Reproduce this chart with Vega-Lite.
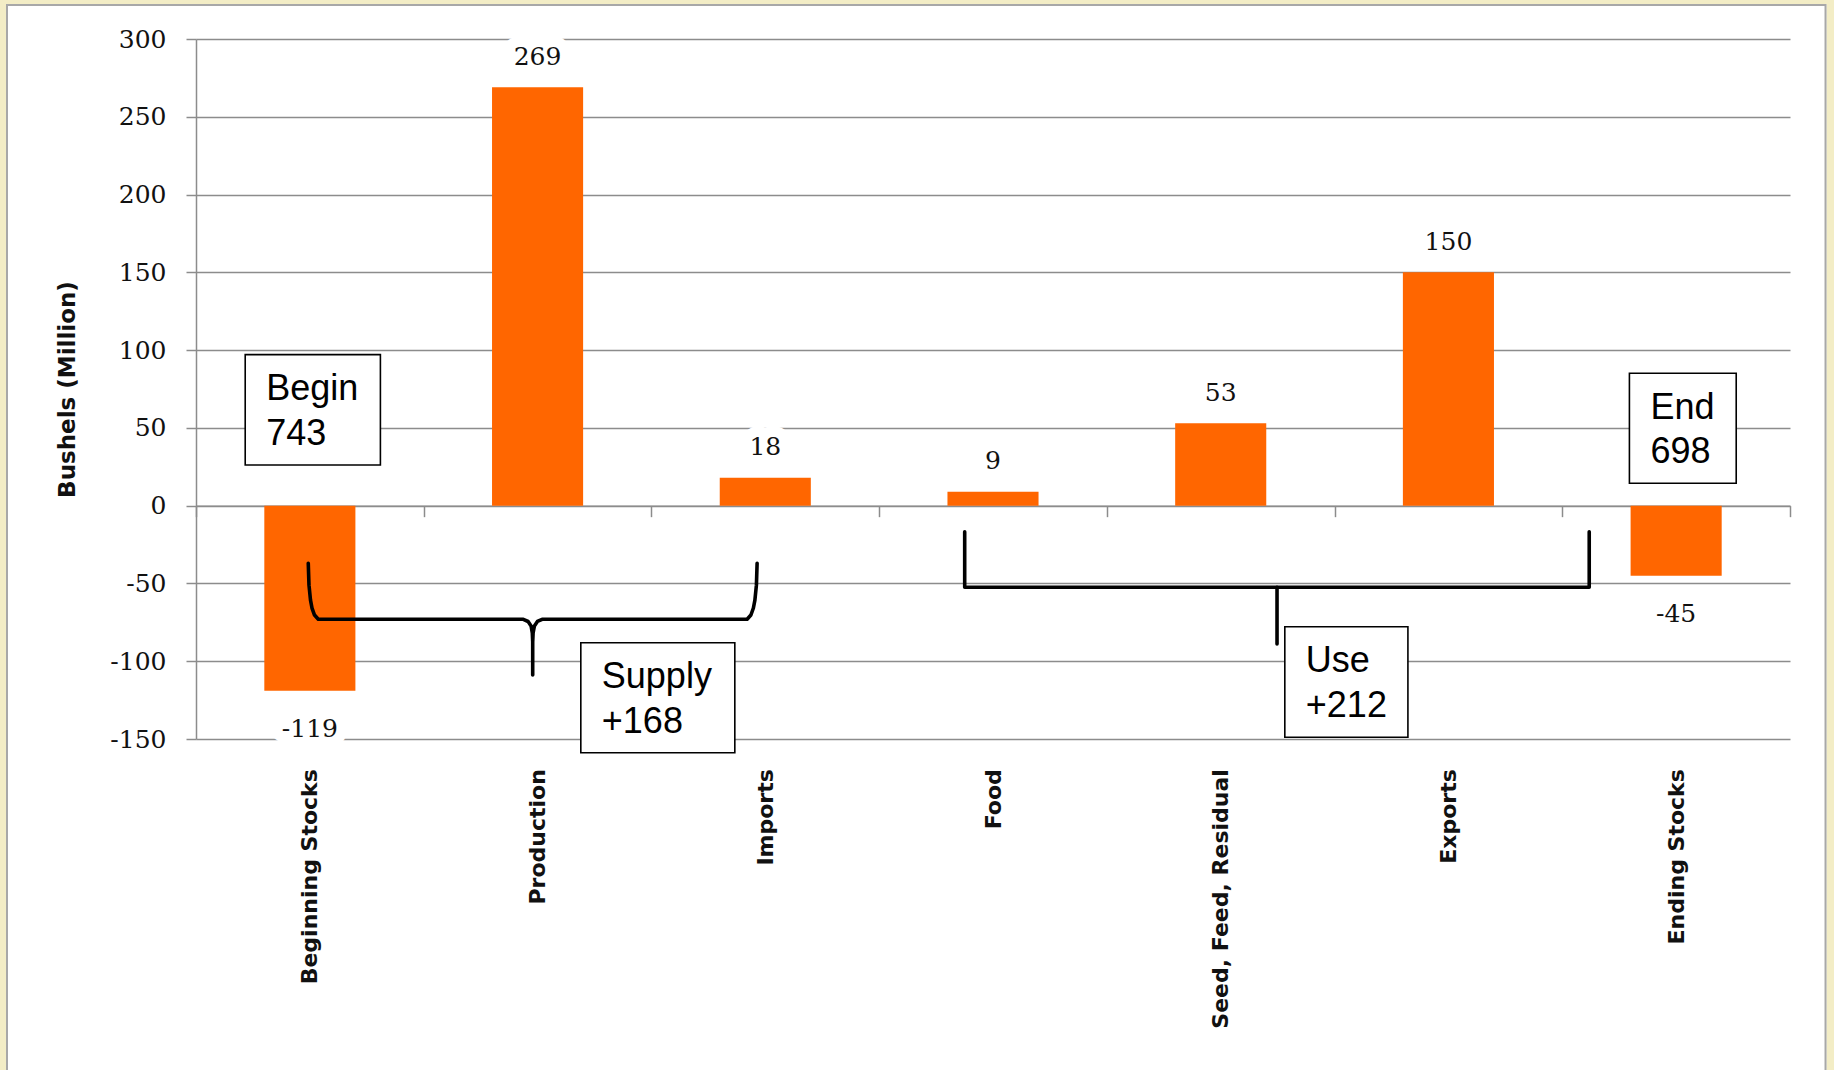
{
  "$schema": "https://vega.github.io/schema/vega-lite/v6.json",
  "width": 1594,
  "height": 700,
  "autosize": {"type": "none"},
  "padding": {"left": 196, "top": 39, "right": 44, "bottom": 331},
  "background": "#ffffff",
  "config": {
    "view": {"stroke": null},
    "locale": {"number": {"decimal": ".", "thousands": ",", "grouping": [3], "currency": ["$", ""], "minus": "-"}}
  },
  "datasets": {
    "balance": [
      {"item": "Beginning Stocks", "change": -119},
      {"item": "Production", "change": 269},
      {"item": "Imports", "change": 18},
      {"item": "Food", "change": 9},
      {"item": "Seed, Feed, Residual", "change": 53},
      {"item": "Exports", "change": 150},
      {"item": "Ending Stocks", "change": -45}
    ],
    "boxes": [
      {"note": "Begin\n743", "x0": 0.2161, "x1": 0.8098, "y0": 97.11, "y1": 26.14},
      {"note": "Supply\n+168", "x0": 1.6899, "x1": 2.3662, "y0": -88.09, "y1": -158.8},
      {"note": "Use\n+212", "x0": 4.7815, "x1": 5.3221, "y0": -77.8, "y1": -148.9},
      {"note": "End\n698", "x0": 6.2948, "x1": 6.7638, "y0": 85.16, "y1": 14.44}
    ],
    "braces": [
      {"piece": "supply", "i": 1, "x": 0.493, "y": -37.05},
      {"piece": "supply", "i": 2, "x": 0.4962, "y": -51.1},
      {"piece": "supply", "i": 3, "x": 0.5028, "y": -60.7},
      {"piece": "supply", "i": 4, "x": 0.5094, "y": -65.8},
      {"piece": "supply", "i": 5, "x": 0.5204, "y": -70.3},
      {"piece": "supply", "i": 6, "x": 0.537, "y": -73.05},
      {"piece": "supply", "i": 7, "x": 1.4374, "y": -73.05},
      {"piece": "supply", "i": 8, "x": 1.4584, "y": -74.46},
      {"piece": "supply", "i": 9, "x": 1.4716, "y": -77.35},
      {"piece": "supply", "i": 10, "x": 1.4769, "y": -81.85},
      {"piece": "supply", "i": 11, "x": 1.4786, "y": -87.6},
      {"piece": "supply", "i": 12, "x": 1.4786, "y": -108.8},
      {"piece": "supply", "i": 13, "x": 1.4786, "y": -87.6},
      {"piece": "supply", "i": 14, "x": 1.4804, "y": -81.85},
      {"piece": "supply", "i": 15, "x": 1.4861, "y": -77.35},
      {"piece": "supply", "i": 16, "x": 1.4993, "y": -74.46},
      {"piece": "supply", "i": 17, "x": 1.5199, "y": -73.05},
      {"piece": "supply", "i": 18, "x": 2.4202, "y": -73.05},
      {"piece": "supply", "i": 19, "x": 2.4369, "y": -70.3},
      {"piece": "supply", "i": 20, "x": 2.4478, "y": -65.8},
      {"piece": "supply", "i": 21, "x": 2.4544, "y": -60.7},
      {"piece": "supply", "i": 22, "x": 2.461, "y": -51.1},
      {"piece": "supply", "i": 23, "x": 2.4641, "y": -37.05},
      {"piece": "use", "i": 1, "x": 3.3757, "y": -16.73},
      {"piece": "use", "i": 2, "x": 3.3757, "y": -52.48},
      {"piece": "use", "i": 3, "x": 6.1183, "y": -52.48},
      {"piece": "use", "i": 4, "x": 6.1183, "y": -16.73},
      {"piece": "use-stem", "i": 1, "x": 4.7473, "y": -52.48},
      {"piece": "use-stem", "i": 2, "x": 4.7473, "y": -88.93}
    ],
    "frame": [
      {"part": "margin", "x0": -0.9222, "x1": 7.2482, "y0": 335.36, "y1": -420},
      {"part": "edge", "x0": -0.83, "x1": 7.156, "y0": 321.86, "y1": -400}
    ]
  },
  "layer": [
    {
      "data": {"name": "balance"},
      "encoding": {
        "x": {
          "field": "item",
          "type": "nominal",
          "sort": null,
          "scale": {"paddingInner": 0, "paddingOuter": 0},
          "axis": {
            "title": null,
            "orient": "bottom",
            "offset": -233.33,
            "labelAngle": -90,
            "labelFont": "DejaVu Sans",
            "labelFontWeight": "bold",
            "labelFontSize": 22,
            "labelColor": "#111111",
            "labelPadding": 252,
            "labelLimit": 0,
            "tickBand": "extent",
            "tickSize": 11,
            "tickWidth": 1.5,
            "tickColor": "#8c8c8c",
            "domainColor": "#8c8c8c",
            "domainWidth": 1.5,
            "grid": false
          }
        },
        "y": {
          "field": "change",
          "type": "quantitative",
          "scale": {"domain": [-150, 300], "nice": false, "zero": false},
          "axis": {
            "title": "Bushels (Million)",
            "values": [-150, -100, -50, 0, 50, 100, 150, 200, 250, 300],
            "grid": true,
            "gridColor": "#8c8c8c",
            "gridWidth": 1.5,
            "domainColor": "#8c8c8c",
            "domainWidth": 1.5,
            "tickColor": "#8c8c8c",
            "tickWidth": 1.5,
            "tickSize": 10,
            "labelFont": "DejaVu Serif",
            "labelFontSize": 25,
            "labelColor": "#111111",
            "labelPadding": 20,
            "titleFont": "DejaVu Sans",
            "titleFontWeight": "bold",
            "titleFontSize": 23,
            "titleColor": "#111111",
            "titlePadding": 30
          }
        }
      },
      "layer": [
        {"mark": {"type": "bar", "color": "#ff6600", "width": {"band": 0.4}}},
        {
          "transform": [{"filter": "datum.change >= 0"}],
          "mark": {"type": "text", "font": "DejaVu Serif", "fontSize": 25, "baseline": "alphabetic", "dy": -22.5, "color": "#ffffff", "stroke": "#ffffff", "strokeWidth": 22, "strokeJoin": "round"},
          "encoding": {"text": {"field": "change", "type": "quantitative"}}
        },
        {
          "transform": [{"filter": "datum.change >= 0"}],
          "mark": {"type": "text", "font": "DejaVu Serif", "fontSize": 25, "baseline": "alphabetic", "dy": -22.5, "color": "#111111"},
          "encoding": {"text": {"field": "change", "type": "quantitative"}}
        },
        {
          "transform": [{"filter": "datum.change < 0"}],
          "mark": {"type": "text", "font": "DejaVu Serif", "fontSize": 25, "baseline": "top", "dy": 26, "color": "#ffffff", "stroke": "#ffffff", "strokeWidth": 22, "strokeJoin": "round"},
          "encoding": {"text": {"field": "change", "type": "quantitative"}}
        },
        {
          "transform": [{"filter": "datum.change < 0"}],
          "mark": {"type": "text", "font": "DejaVu Serif", "fontSize": 25, "baseline": "top", "dy": 26, "color": "#111111"},
          "encoding": {"text": {"field": "change", "type": "quantitative"}}
        }
      ]
    },
    {
      "layer": [
        {
          "data": {"name": "braces"},
          "mark": {"type": "line", "color": "#000000", "strokeWidth": 3.6, "strokeJoin": "round", "strokeCap": "round", "interpolate": "linear"},
          "encoding": {
            "x": {"field": "x", "type": "quantitative", "scale": {"domain": [0, 7], "nice": false, "zero": false}, "axis": null},
            "y": {"field": "y", "type": "quantitative", "scale": {"domain": [-150, 300], "nice": false, "zero": false}},
            "detail": {"field": "piece"},
            "order": {"field": "i", "type": "quantitative"}
          }
        },
        {
          "data": {"name": "boxes"},
          "mark": {"type": "rect", "fill": "#ffffff", "stroke": "#000000", "strokeWidth": 1.6},
          "encoding": {
            "x": {"field": "x0", "type": "quantitative", "scale": {"domain": [0, 7], "nice": false, "zero": false}, "axis": null},
            "x2": {"field": "x1"},
            "y": {"field": "y0", "type": "quantitative", "scale": {"domain": [-150, 300], "nice": false, "zero": false}},
            "y2": {"field": "y1"}
          }
        },
        {
          "data": {"name": "boxes"},
          "mark": {"type": "text", "font": "Liberation Sans", "fontSize": 36, "lineHeight": 44.5, "lineBreak": "\n", "align": "left", "baseline": "top", "dx": 21, "dy": 17.5, "color": "#000000"},
          "encoding": {
            "x": {"field": "x0", "type": "quantitative", "scale": {"domain": [0, 7], "nice": false, "zero": false}, "axis": null},
            "y": {"field": "y0", "type": "quantitative", "scale": {"domain": [-150, 300], "nice": false, "zero": false}},
            "text": {"field": "note"}
          }
        },
        {
          "data": {"name": "frame"},
          "transform": [{"filter": "datum.part === 'margin'"}],
          "mark": {"type": "rect", "fill": null, "fillOpacity": 0, "stroke": "#f3edc6", "strokeWidth": 40},
          "encoding": {
            "x": {"field": "x0", "type": "quantitative", "scale": {"domain": [0, 7], "nice": false, "zero": false}, "axis": null},
            "x2": {"field": "x1"},
            "y": {"field": "y0", "type": "quantitative", "scale": {"domain": [-150, 300], "nice": false, "zero": false}},
            "y2": {"field": "y1"}
          }
        },
        {
          "data": {"name": "frame"},
          "transform": [{"filter": "datum.part === 'edge'"}],
          "mark": {"type": "rect", "fill": null, "fillOpacity": 0, "stroke": "#a8a8a8", "strokeWidth": 2},
          "encoding": {
            "x": {"field": "x0", "type": "quantitative", "scale": {"domain": [0, 7], "nice": false, "zero": false}, "axis": null},
            "x2": {"field": "x1"},
            "y": {"field": "y0", "type": "quantitative", "scale": {"domain": [-150, 300], "nice": false, "zero": false}},
            "y2": {"field": "y1"}
          }
        }
      ]
    }
  ],
  "resolve": {"scale": {"x": "independent"}}
}
